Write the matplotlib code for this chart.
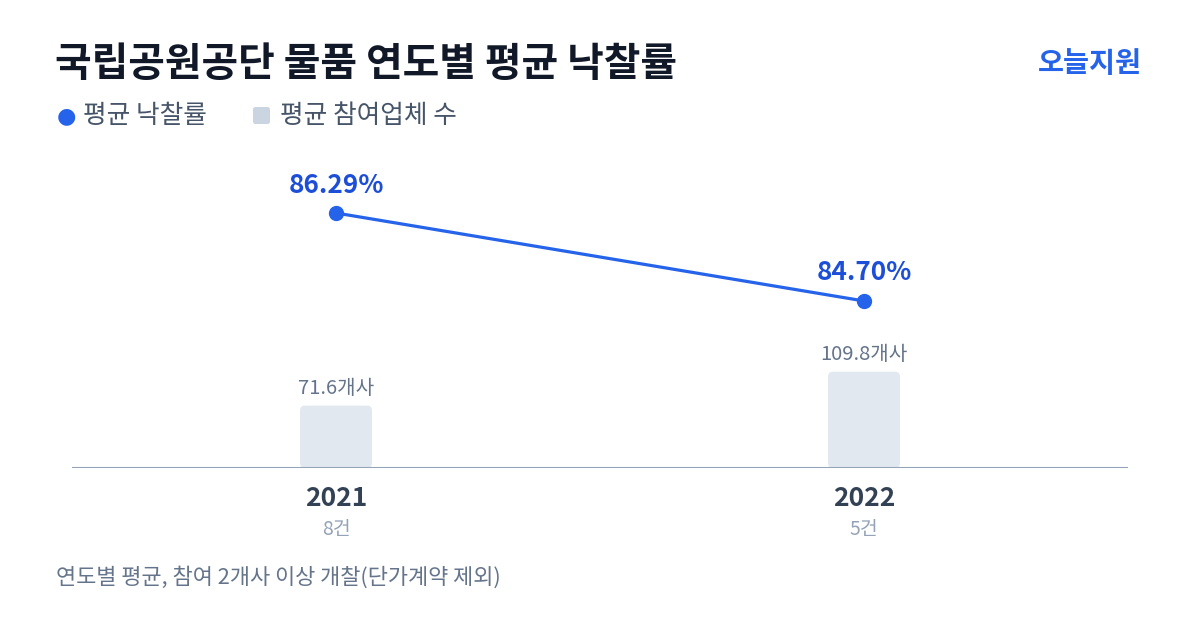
import matplotlib
matplotlib.use("Agg")
import matplotlib.pyplot as plt
from matplotlib.patches import FancyBboxPatch

plt.rcParams['font.family'] = ['Noto Sans CJK KR', 'DejaVu Sans']

# ---- data ----
title = "국립공원공단 물품 연도별 평균 낙찰률"
brand = "오늘지원"
legend_labels = ["평균 낙찰률", "평균 참여업체 수"]
years = ["2021", "2022"]
counts = ["8건", "5건"]
rates = [86.29, 84.70]
bidders = [71.6, 109.8]
footer = "연도별 평균, 참여 2개사 이상 개찰(단가계약 제외)"

W, H = 1200, 630
fig = plt.figure(figsize=(W / 100, H / 100), dpi=100)
fig.patch.set_facecolor("white")

def fx(px):
    return px / W

def fy(py):
    return 1 - py / H

# plot area in pixels
L, R, T, B = 72, 1128, 140, 468
ax = fig.add_axes([fx(L), fy(B), (R - L) / W, (B - T) / H])
ax.set_xlim(-0.5, len(years) - 0.5)
bar_top = (B - T) / 0.886
ax.set_ylim(0, bar_top)
for s in ax.spines.values():
    s.set_visible(False)
ax.set_xticks([])
ax.set_yticks([])
ax.patch.set_alpha(0)

xs = list(range(len(years)))
bar_w = 72 / ((R - L) / len(years))
bars = ax.bar(xs, bidders, width=bar_w, color="none")
xu_per_px = (len(years)) / (R - L)
yu_per_px = bar_top / (B - T)
for p in bars.patches:
    fb = FancyBboxPatch((p.get_x(), p.get_y()), p.get_width(), p.get_height() - 1 * yu_per_px,
                        boxstyle="round,pad=0,rounding_size=%f" % (5 * xu_per_px),
                        mutation_aspect=yu_per_px / xu_per_px,
                        facecolor="#e2e8f0", edgecolor="none", zorder=2)
    ax.add_patch(fb)
    p.set_visible(False)
for x, v in zip(xs, bidders):
    ax.annotate(f"{v:.1f}개사", (x, v), xytext=(0, 16), textcoords="offset pixels",
                ha="center", va="center", fontsize=14.5, color="#64748b")

ax.axhline(0, color="#94a3b8", lw=1.5, zorder=3)

ax2 = ax.twinx()
ax2.set_ylim(81.68, 87.61)
for s in ax2.spines.values():
    s.set_visible(False)
ax2.set_yticks([])
ax2.plot(xs, rates, color="#2563eb", lw=2.3, marker="o", markersize=10,
         markerfacecolor="#2563eb", markeredgecolor="#2563eb", zorder=5)
for x, v in zip(xs, rates):
    ax2.annotate(f"{v:.2f}%", (x, v), xytext=(0, 28), textcoords="offset pixels",
                 ha="center", va="center", fontsize=18.8, fontweight="bold", color="#1d4ed8")

for x, y, c in zip(xs, years, counts):
    ax.annotate(y, (x, 0), xytext=(0, -31), textcoords="offset pixels",
                ha="center", va="center", fontsize=19, fontweight="bold", color="#334155")
    ax.annotate(c, (x, 0), xytext=(0, -61), textcoords="offset pixels",
                ha="center", va="center", fontsize=14, color="#94a3b8")

# title & brand
fig.text(fx(55), fy(65), title, ha="left", va="center", fontsize=28.7, fontweight="bold", color="#111827")
fig.text(fx(1142), fy(64), brand, ha="right", va="center", fontsize=20.4, fontweight="bold", color="#2563eb")

# legend
fig.text(fx(57), fy(116), "●", ha="left", va="center", fontsize=16, color="#2563eb",
         family=['DejaVu Sans'])
fig.text(fx(83), fy(116), legend_labels[0], ha="left", va="center", fontsize=18.5, color="#475569")
lg = FancyBboxPatch((fx(253), fy(124)), fx(17), 17 / H,
                    boxstyle="round,pad=0,rounding_size=0.002", transform=fig.transFigure,
                    facecolor="#cbd5e1", edgecolor="none", mutation_aspect=W / H)
fig.patches.append(lg)
fig.text(fx(280), fy(116), legend_labels[1], ha="left", va="center", fontsize=18.5, color="#475569")

fig.text(fx(56), fy(577), footer, ha="left", va="center", fontsize=15.8, color="#64748b")

fig.savefig("out.png", dpi=100, facecolor="white")
